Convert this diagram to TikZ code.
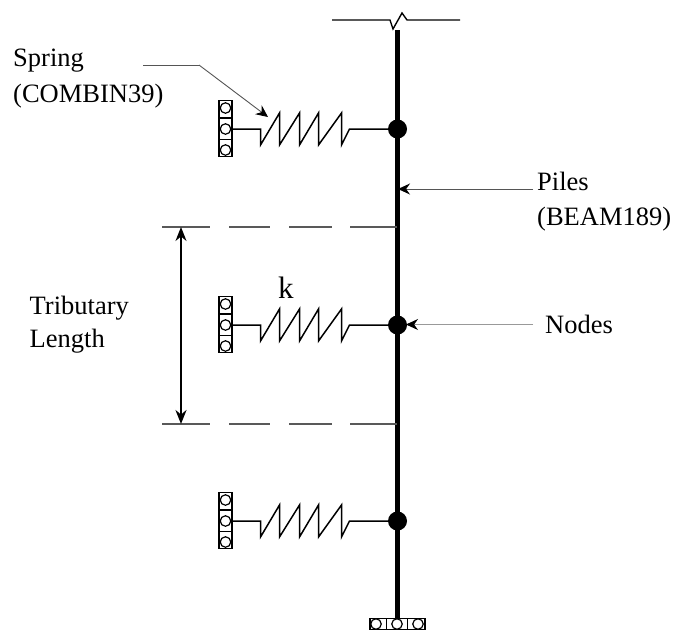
\documentclass[tikz,border=0pt]{standalone}
\usepackage{fontspec}
\setmainfont{Liberation Serif}
\usetikzlibrary{arrows.meta,positioning}
\definecolor{pileink}{HTML}{000000}
\definecolor{leadgray}{HTML}{555555}
\tikzset{
  lbl/.style={inner sep=0pt, align=left, anchor=base west, font=\fontsize{26.5}{35.5}\selectfont},
  dot/.style={circle, fill=pileink, inner sep=0pt, minimum size=19pt},
  wallv/.style={draw=pileink, line width=1.5pt, inner sep=0pt, minimum width=13pt, minimum height=56pt},
  wallh/.style={draw=pileink, line width=1.5pt, inner sep=0pt, minimum width=55pt, minimum height=11pt},
  roll/.style={draw=pileink, fill=white, circle, line width=1.2pt, inner sep=0pt, minimum size=10.5pt},
  pile/.style={line width=5pt, color=pileink},
  thin line/.style={line width=.9pt, color=leadgray},
  lead/.style={line width=.9pt, color=leadgray, -{Stealth[length=12pt, width=11pt, color=pileink]}},
  dim/.style={line width=1.8pt, color=pileink, {Stealth[length=14pt, width=11pt]}-{Stealth[length=14pt, width=11pt]}},
  gap/.style={line width=1.6pt, color=pileink!65, dash pattern=on 48pt off 19pt on 41pt off 19pt on 43pt off 18pt on 47pt},
  coil/.style={line width=1.5pt, color=pileink, line join=miter},
  springarm/.pic={
    \node[wallv] at (-172,-.5) {};
    \draw[line width=1.2pt] (-178,-11) -- (-166,-11) (-178,10.5) -- (-166,10.5);
    \node[roll] at (-172,-21) {};
    \node[roll] at (-172,0) {};
    \node[roll] at (-172,21) {};
    \draw[coil] (-166,0) -- (-137,0) -- (-137,16) -- (-118,-16) -- (-118,16) -- (-98,-16) -- (-98,16) -- (-79,-16) -- (-79,16) -- (-56,-16) -- (-56,16) -- (-48,0) -- (0,0);
  },
}
\begin{document}
\begin{tikzpicture}[x=1pt, y=-1pt]
    \useasboundingbox (0,0) rectangle (674,630);
    \coordinate (tl) at (332,20);
    \coordinate (tr) at (460,20);
    \coordinate (pt) at (397.5,30);
    \coordinate (g1) at (162,227);
    \coordinate (g1r) at (397,227);
    \coordinate (g2) at (162,424);
    \coordinate (g2r) at (397,424);
    \coordinate (d1) at (181,227);
    \coordinate (d2) at (181,424);
    \coordinate (bend) at (199,65);
    \coordinate (st) at (143,65);
    \coordinate (sp) at (268,117);
    \coordinate (ps) at (533,189);
    \coordinate (pa) at (398,189);
    \coordinate (ns) at (533,324.5);
    \coordinate (na) at (406,324.5);
    \node[dot] (n1) at (397.5,129) {};
    \node[dot] (n2) at (397.5,325) {};
    \node[dot] (n3) at (397.5,521) {};
    \node[wallh] (base) at (397.5,624) {};
    \draw[line width=1.2pt] (386.5,618) -- (386.5,630) (407.5,618) -- (407.5,630);
    \node[roll] (r1) at (376,624) {};
    \node[roll] (r2) at (397,624) {};
    \node[roll] (r3) at (418,624) {};
    \draw[pile] (pt) -- (base.north);
    \draw[line width=1.4pt] (tl) -- (390,20) -- (393,29) -- (402,13) -- (407,20) -- (tr);
    \pic at (n1) {springarm};
    \pic at (n2) {springarm};
    \pic at (n3) {springarm};
    \draw[gap] (g1) -- (g1r);
    \draw[gap] (g2) -- (g2r);
    \draw[dim] (d1) -- (d2);
    \draw[thin line] (st) -- (bend);
    \draw[lead] (bend) -- (sp);
    \draw[lead] (ps) -- (pa);
    \draw[lead, color=leadgray!60] (ns) -- (na);
    \node[lbl] (spr) at (13,102) {Spring\\(COMBIN39)};
    \node[lbl] (pil) at (537,225.5) {Piles\\(BEAM189)};
    \node[lbl, font=\fontsize{26.5}{33}\selectfont] (tri) at (29.5,347.5) {Tributary\\Length};
    \node[lbl] (nod) at (545,333) {Nodes};
    \node[lbl, font=\fontsize{31}{35}\selectfont] (k) at (278,298) {k};
  \end{tikzpicture}
\end{document}
